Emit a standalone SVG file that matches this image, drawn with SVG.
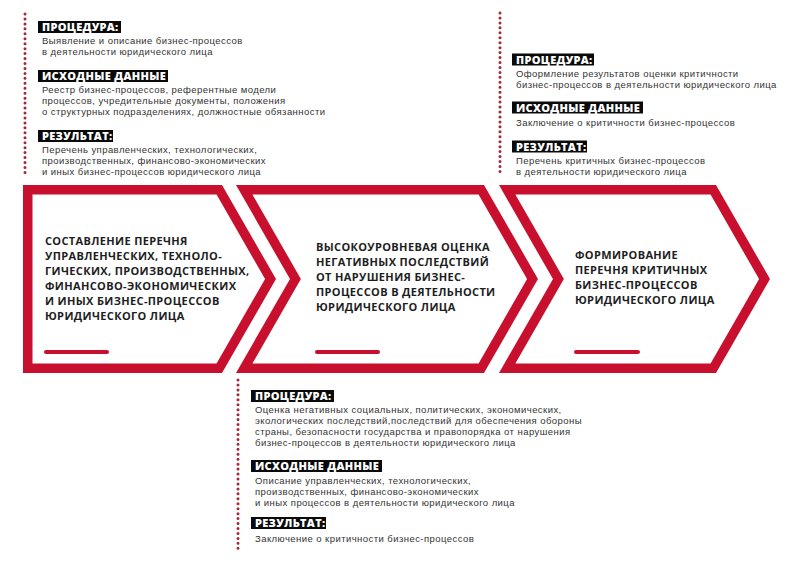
<svg xmlns="http://www.w3.org/2000/svg" width="800" height="563" viewBox="0 0 800 563">
<style>
.frame{fill:#ffffff;stroke:#c8102e;stroke-width:9.5;stroke-linejoin:miter;stroke-miterlimit:10}
.bar{stroke:#c8102e;stroke-width:4;stroke-linecap:round}
.title{font-family:"Open Sans","Liberation Sans",sans-serif;font-weight:700;font-size:11px;letter-spacing:0.35px;fill:#1e1e1e}
.lab{fill:#0a0a0a}
.labt{font-family:"Open Sans","Liberation Sans",sans-serif;font-weight:800;font-size:11px;letter-spacing:0.3px;fill:#ffffff}
.body{font-family:"Liberation Sans",Arial,sans-serif;font-size:9.5px;letter-spacing:0.44px;fill:#333333}
.dots{stroke:#a3283a;stroke-width:3;stroke-linecap:round;stroke-dasharray:0 4.95;fill:none}
</style>
<rect width="800" height="563" fill="#ffffff"/>
<g id="connectors">
<line class="dots" x1="25" y1="14" x2="25" y2="174"/>
<line class="dots" x1="500" y1="13" x2="500" y2="174"/>
<line class="dots" x1="238" y1="380" x2="238" y2="549"/>
</g>
<g id="step1">
<polygon class="frame" points="27.75,189.75 219.25,189.75 270.5,279 219.25,368.25 27.75,368.25"/>
<text class="title"><tspan x="45" y="245">СОСТАВЛЕНИЕ ПЕРЕЧНЯ</tspan><tspan x="45" y="260">УПРАВЛЕНЧЕСКИХ, ТЕХНОЛО-</tspan><tspan x="45" y="275">ГИЧЕСКИХ, ПРОИЗВОДСТВЕННЫХ,</tspan><tspan x="45" y="290">ФИНАНСОВО-ЭКОНОМИЧЕСКИХ</tspan><tspan x="45" y="305">И ИНЫХ БИЗНЕС-ПРОЦЕССОВ</tspan><tspan x="45" y="320">ЮРИДИЧЕСКОГО ЛИЦА</tspan></text>
<line class="bar" x1="46" y1="352" x2="107" y2="352"/>
</g>
<g id="step2">
<polygon class="frame" points="244.2,189.75 481.25,189.75 532.5,279 481.25,368.25 244.2,368.25 295.4,279"/>
<text class="title"><tspan x="316" y="251">ВЫСОКОУРОВНЕВАЯ ОЦЕНКА</tspan><tspan x="316" y="266">НЕГАТИВНЫХ ПОСЛЕДСТВИЙ</tspan><tspan x="316" y="281">ОТ НАРУШЕНИЯ БИЗНЕС-</tspan><tspan x="316" y="296">ПРОЦЕССОВ В ДЕЯТЕЛЬНОСТИ</tspan><tspan x="316" y="311">ЮРИДИЧЕСКОГО ЛИЦА</tspan></text>
<line class="bar" x1="317" y1="352" x2="378" y2="352"/>
</g>
<g id="step3">
<polygon class="frame" points="507.2,189.75 713.25,189.75 764.5,279 713.25,368.25 507.2,368.25 558.4,279"/>
<text class="title"><tspan x="575" y="259">ФОРМИРОВАНИЕ</tspan><tspan x="575" y="274">ПЕРЕЧНЯ КРИТИЧНЫХ</tspan><tspan x="575" y="289">БИЗНЕС-ПРОЦЕССОВ</tspan><tspan x="575" y="304">ЮРИДИЧЕСКОГО ЛИЦА</tspan></text>
<line class="bar" x1="576" y1="352" x2="638" y2="352"/>
</g>
<g id="info1">
<rect class="lab" x="38" y="21" width="83" height="12"/>
<text class="labt" x="42" y="31">ПРОЦЕДУРА:</text>
<text class="body"><tspan x="42" y="44">Выявление и описание бизнес-процессов</tspan><tspan x="42" y="54.7">в деятельности юридического лица</tspan></text>
<rect class="lab" x="38" y="70" width="130" height="12"/>
<text class="labt" x="42" y="80">ИСХОДНЫЕ ДАННЫЕ</text>
<text class="body"><tspan x="42" y="92.5">Реестр бизнес-процессов, референтные модели</tspan><tspan x="42" y="103.5">процессов, учредительные документы, положения</tspan><tspan x="42" y="114.5">о структурных подразделениях, должностные обязанности</tspan></text>
<rect class="lab" x="38" y="130" width="75" height="12"/>
<text class="labt" x="42" y="140">РЕЗУЛЬТАТ:</text>
<text class="body"><tspan x="42" y="152.5">Перечень управленческих, технологических,</tspan><tspan x="42" y="163.5">производственных, финансово-экономических</tspan><tspan x="42" y="174.5">и иных бизнес-процессов юридического лица</tspan></text>
</g>
<g id="info3">
<rect class="lab" x="512" y="53.5" width="82" height="12"/>
<text class="labt" x="516" y="63.5">ПРОЦЕДУРА:</text>
<text class="body"><tspan x="516" y="76.5">Оформление результатов оценки критичности</tspan><tspan x="516" y="87.5">бизнес-процессов в деятельности юридического лица</tspan></text>
<rect class="lab" x="512" y="101.5" width="131" height="12"/>
<text class="labt" x="516" y="111.5">ИСХОДНЫЕ ДАННЫЕ</text>
<text class="body"><tspan x="516" y="125.5">Заключение о критичности бизнес-процессов</tspan></text>
<rect class="lab" x="512" y="140.5" width="75" height="12"/>
<text class="labt" x="516" y="150.5">РЕЗУЛЬТАТ:</text>
<text class="body"><tspan x="516" y="163.5">Перечень критичных бизнес-процессов</tspan><tspan x="516" y="174.5">в деятельности юридического лица</tspan></text>
</g>
<g id="info2">
<rect class="lab" x="251" y="390" width="83" height="12"/>
<text class="labt" x="255" y="400">ПРОЦЕДУРА:</text>
<text class="body"><tspan x="255" y="412.5">Оценка негативных социальных, политических, экономических,</tspan><tspan x="255" y="423.5">экологических последствий,последствий для обеспечения обороны</tspan><tspan x="255" y="434.5">страны, безопасности государства и правопорядка от нарушения</tspan><tspan x="255" y="445.5">бизнес-процессов в деятельности юридического лица</tspan></text>
<rect class="lab" x="251" y="460" width="131" height="12"/>
<text class="labt" x="255" y="470">ИСХОДНЫЕ ДАННЫЕ</text>
<text class="body"><tspan x="255" y="483.5">Описание управленческих, технологических,</tspan><tspan x="255" y="494.5">производственных, финансово-экономических</tspan><tspan x="255" y="505.5">и иных процессов в деятельности юридического лица</tspan></text>
<rect class="lab" x="251" y="517" width="75" height="12"/>
<text class="labt" x="255" y="527">РЕЗУЛЬТАТ:</text>
<text class="body"><tspan x="255" y="542">Заключение о критичности бизнес-процессов</tspan></text>
</g>
</svg>
